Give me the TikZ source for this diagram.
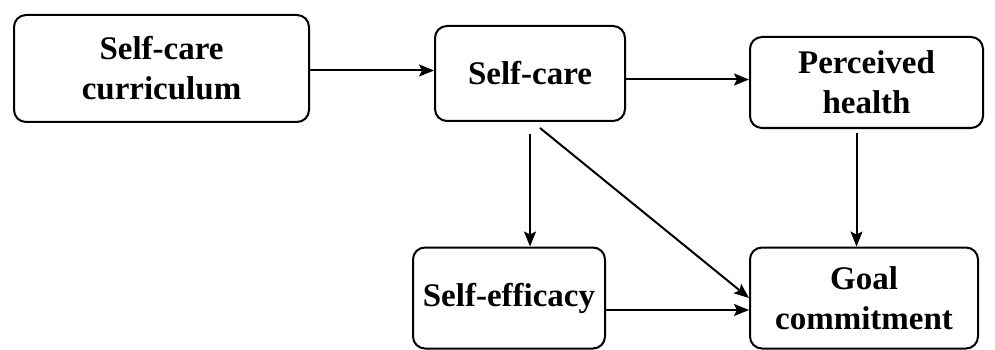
\documentclass[tikz,border=0pt]{standalone}
\usepackage{fontspec}
\setmainfont{Liberation Serif}
\usetikzlibrary{arrows.meta}

\begin{document}
\begin{tikzpicture}[x=1pt, y=-1pt,
	box/.style={draw, line width=2pt, rounded corners=12pt, align=center,
		font=\fontsize{33}{40}\selectfont\bfseries, inner sep=0pt},
	arr/.style={line width=2pt, -{Stealth[length=15pt, width=12pt, inset=3pt]}}]
	\useasboundingbox (0,0) rectangle (995,350);
	
	% boxes
	\node[box, minimum width=295pt, minimum height=107pt] (curr) at (161.5, 68.5) {Self-care\\curriculum};
	\node[box, minimum width=190pt, minimum height=95pt] (care) at (530, 73.5) {Self-care};
	\node[box, minimum width=233pt, minimum height=91pt] (health) at (866.5, 82.5) {Perceived\\health};
	\node[box, minimum width=192pt, minimum height=101pt] (eff) at (509, 298) {Self-efficacy};
	\node[box, minimum width=228pt, minimum height=101pt] (goal) at (864, 298) {Goal\\commitment};
	
	% paths
	\draw[arr] ([yshift=-2pt]curr.east) -- ([yshift=-2pt]curr.east -| care.west);
	\draw[arr] ([yshift=-6pt]care.east) -- ([yshift=-6pt]care.east -| health.west);
	\draw[arr] ([yshift=-12pt]care.south) -- (care.south |- eff.north);
	\draw[arr] ([xshift=10pt, yshift=-6pt]care.south) -- (goal.west);
	\draw[arr] ([xshift=-10pt, yshift=-4pt]health.south) -- ([xshift=-10pt]health.south |- goal.north);
	\draw[arr] ([yshift=-12pt]eff.east) -- ([yshift=-12pt]eff.east -| goal.west);
\end{tikzpicture}
\end{document}
